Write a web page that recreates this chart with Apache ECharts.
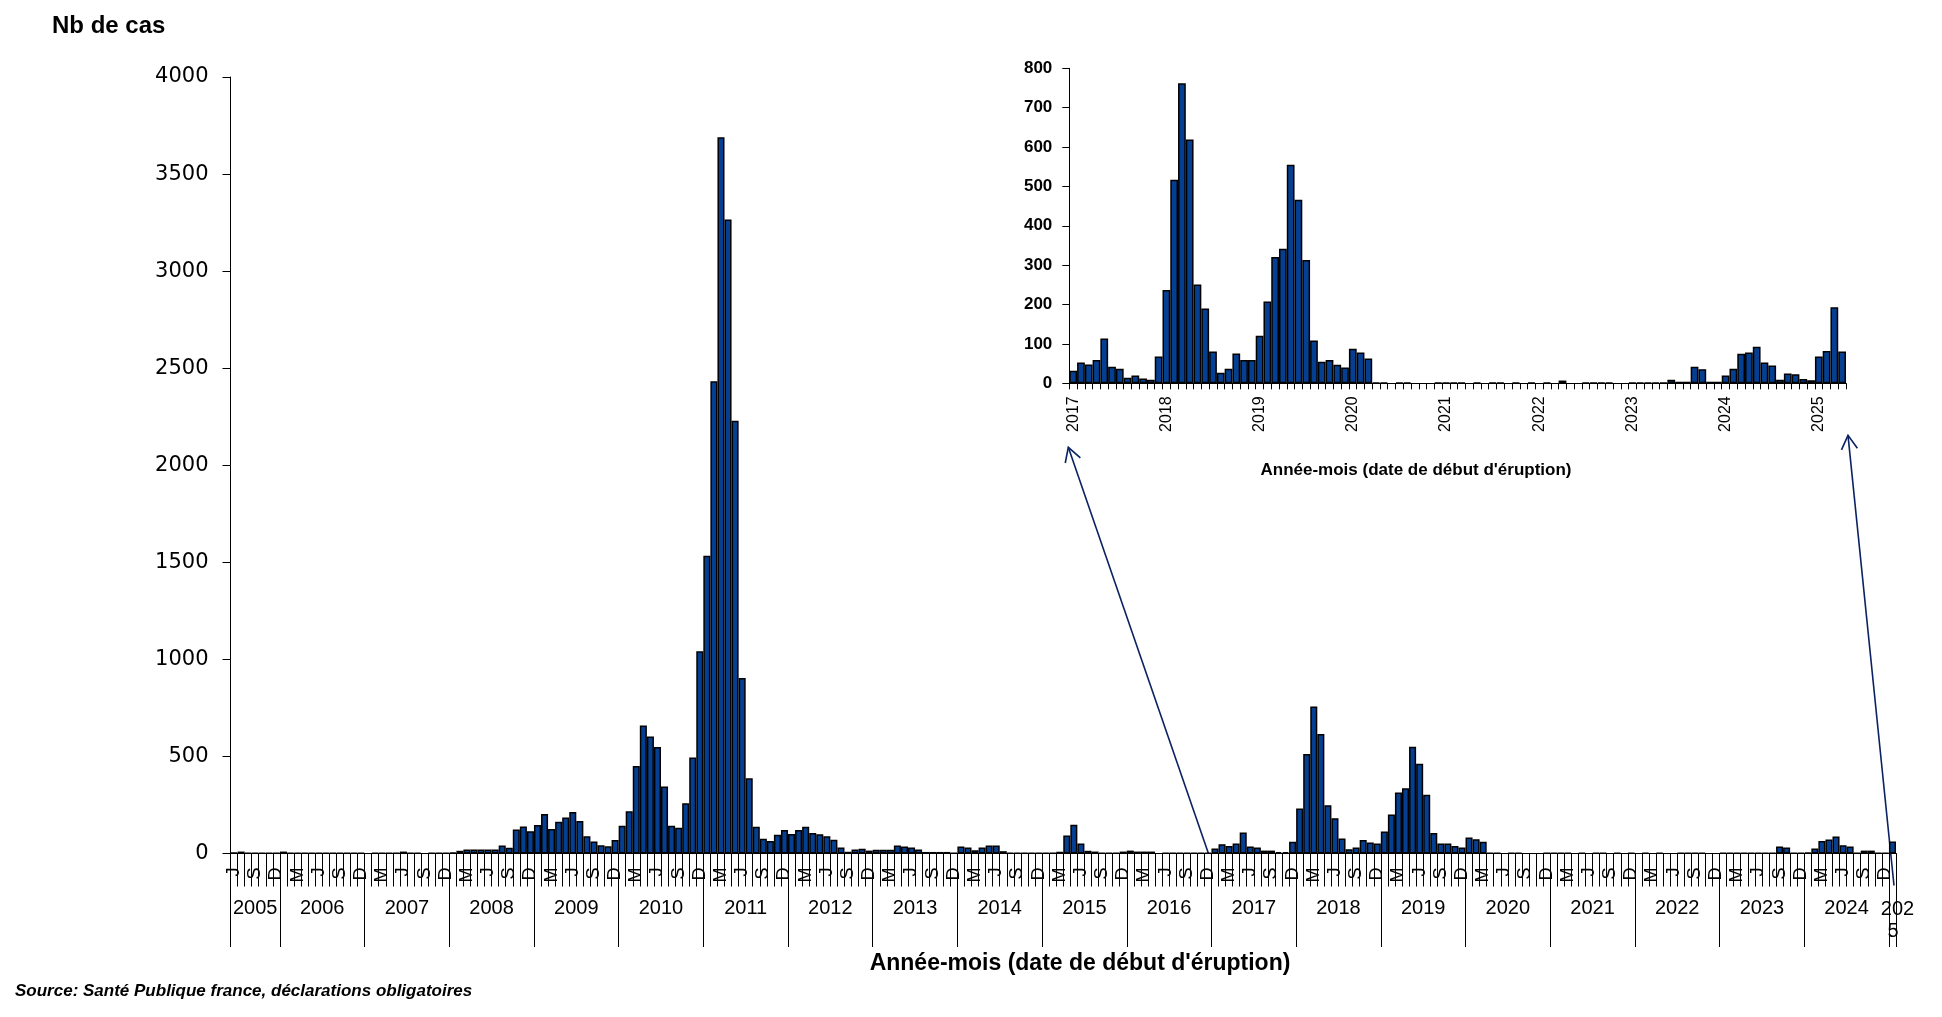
<!DOCTYPE html>
<html><head><meta charset="utf-8">
<script src="https://cdn.jsdelivr.net/npm/echarts@6/dist/echarts.min.js"></script>
<style>html,body{margin:0;padding:0;background:#fff}#c{width:1942px;height:1017px}</style>
</head><body><div id="c"></div>
<script>
// ---- Main chart: monthly cases, June 2005 -> January 2025 ----
const cases2005 = [5,10,3,3,3,3,3];            // Jun-Dec
const cases2006 = [10,3,3,3,3,3,3,3,3,3,3,3];
const cases2007 = [0,3,3,3,3,10,3,3,0,3,3,3];
const cases2008 = [4,14,20,20,20,20,20,41,29,123,139,115];
const cases2009 = [147,204,126,163,185,214,167,89,62,42,37,69];
const cases2010 = [143,217,451,660,603,549,345,143,133,259,495,1042];
const cases2011 = [1534,2433,3690,3266,2229,904,387,138,76,64,96,121];
const cases2012 = [101,121,138,106,99,89,71,31,9,21,24,15];
const cases2013 = [19,19,19,41,36,31,21,8,8,8,8,3];
const cases2014 = [36,31,17,31,41,41,12,3,3,3,3,3];
const cases2015 = [3,3,9,93,148,51,14,10,3,3,3,10];
const cases2016 = [15,10,10,10,0,3,3,3,3,3,3,3];
const cases2017 = [26,48,39,51,108,36,31,15,15,7,7,60];
const cases2018 = [232,512,757,615,249,182,77,22,31,69,57,51];
const cases2019 = [113,201,314,336,550,462,302,105,51,51,39,31];
const cases2020 = [82,74,60,3,3,0,3,3,0,0,0,3];
const cases2021 = [3,3,3,0,3,0,3,3,0,3,0,3];
const cases2022 = [0,3,0,3,0,0,3,3,3,3,0,0];
const cases2023 = [3,3,3,3,3,3,3,3,36,31,3,3];
const cases2024 = [5,26,65,72,87,43,36,3,15,15,3,3];
const cases2025 = [62];                          // Jan
const mainYears = [2005,2006,2007,2008,2009,2010,2011,2012,2013,2014,2015,2016,2017,2018,2019,2020,2021,2022,2023,2024,2025];
const mainByYear = [cases2005,cases2006,cases2007,cases2008,cases2009,cases2010,cases2011,cases2012,cases2013,cases2014,cases2015,cases2016,cases2017,cases2018,cases2019,cases2020,cases2021,cases2022,cases2023,cases2024,cases2025];
const mainFirstMonth = 6; // first year starts in June

// ---- Inset: January 2017 -> April 2025 ----
const inset2017 = [32,53,48,59,114,42,37,14,20,12,9,68];
const inset2018 = [237,517,762,619,251,190,81,27,37,76,59,59];
const inset2019 = [121,208,321,342,555,466,313,109,55,59,47,40];
const inset2020 = [88,78,63,2,2,0,2,2,0,0,0,2];
const inset2021 = [2,2,2,0,2,0,2,2,0,2,0,2];
const inset2022 = [0,2,0,7,0,0,2,2,2,2,0,0];
const inset2023 = [2,2,2,2,2,9,4,4,42,36,4,4];
const inset2024 = [20,37,75,78,93,53,45,9,25,23,11,8];
const inset2025 = [68,82,193,81];
const insetYears = [2017,2018,2019,2020,2021,2022,2023,2024,2025];
const insetByYear = [inset2017,inset2018,inset2019,inset2020,inset2021,inset2022,inset2023,inset2024,inset2025];

// tick labels
const monthLetters = ['J','F','M','A','M','J','J','A','S','O','N','D'];
const shownMonths = [3,6,9,12];
const mainYTicks = {min:0, max:4000, step:500};
const insetYTicks = {min:0, max:800, step:100};
const titles = {
  y: 'Nb de cas',
  x: "Année-mois (date de début d'éruption)",
  source: 'Source: Santé Publique france, déclarations obligatoires'
};

function pad(m){ return (m<10?'0':'')+m; }
const mainCats = [], mainVals = [];
mainYears.forEach((y, yi) => {
  const arr = mainByYear[yi];
  const start = yi === 0 ? mainFirstMonth : 1;
  arr.forEach((v, k) => { mainCats.push(y + '-' + pad(start + k)); mainVals.push(v === 0 ? null : v); });
});
const insetCats = [], insetVals = [];
insetYears.forEach((y, yi) => {
  insetByYear[yi].forEach((v, k) => { insetCats.push(y + '-' + pad(1 + k)); insetVals.push(v === 0 ? null : v); });
});
// where each year's label goes (category in the middle of its segment)
const yearLabelAt = {};
mainYears.forEach((y, yi) => {
  const n = mainByYear[yi].length;
  const start = yi === 0 ? mainFirstMonth : 1;
  if (n === 12) yearLabelAt[y + '-06'] = {text: String(y), shift: true};
  else yearLabelAt[y + '-' + pad(start + Math.floor((n - 1) / 2))] = {text: String(y), shift: n % 2 === 0, small: n < 3};
});

const BLUE = '#053f92';
const LF = 'Liberation Sans, Arial, sans-serif';
const chart = echarts.init(document.getElementById('c'), null, {renderer: 'canvas'});

const option = {
  animation: false,
  backgroundColor: '#fff',
  grid: [
    {left: 230.5, right: 46, top: 77, bottom: 163.5, containLabel: false},
    {left: 1069.3, width: 776.7, top: 68.3, height: 315, containLabel: false}
  ],
  xAxis: [
    { type: 'category', gridIndex: 0, position: 'bottom', data: mainCats, boundaryGap: true,
      axisLine: {show: true, lineStyle: {color: '#000', width: 1}},
      axisTick: {show: true, interval: 0, length: 33, lineStyle: {color: '#000', width: 1}},
      axisLabel: {interval: 0, rotate: 90, margin: 14, color: '#000', fontFamily: LF, fontSize: 18,
        formatter: v => { const m = +v.slice(5); return shownMonths.indexOf(m) >= 0 ? monthLetters[m - 1] : ''; }},
      splitLine: {show: false}
    },
    { type: 'category', gridIndex: 0, position: 'bottom', data: mainCats, boundaryGap: true,
      axisLine: {show: false},
      axisTick: {show: true, length: 93.5, lineStyle: {color: '#000', width: 1},
        interval: (i, v) => i === 0 || v.slice(5) === '01'},
      axisLabel: {interval: 0, margin: 45, color: '#000', fontFamily: LF, fontSize: 20,
        formatter: v => {
          const e = yearLabelAt[v]; if (!e) return '';
          if (e.small) return '{s|' + e.text.slice(0, 3) + '}\n{t|' + e.text.slice(3) + '}';
          return e.shift ? '{a|' + e.text + '}' : e.text;
        },
        rich: {a: {padding: [0, 0, 0, 7], fontSize: 20, fontFamily: LF, color: '#000'},
               s: {fontSize: 20, lineHeight: 22, fontFamily: LF, color: '#000', padding: [0, 0, 0, 10]},
               t: {fontSize: 20, lineHeight: 22, fontFamily: LF, color: '#000', padding: [0, 0, 0, 1]}}},
      splitLine: {show: false}
    },
    { type: 'category', gridIndex: 1, position: 'bottom', data: insetCats, boundaryGap: true,
      axisLine: {show: true, lineStyle: {color: '#000', width: 1}},
      axisTick: {show: true, interval: 0, length: 6, lineStyle: {color: '#000', width: 1}},
      axisLabel: {interval: 0, rotate: 90, margin: 13, color: '#000', fontFamily: LF, fontSize: 16,
        formatter: v => v.slice(5) === '01' ? v.slice(0, 4) : ''},
      splitLine: {show: false}
    }
  ],
  yAxis: [
    { type: 'value', gridIndex: 0, min: mainYTicks.min, max: mainYTicks.max, interval: mainYTicks.step,
      axisLine: {show: true, lineStyle: {color: '#000', width: 1}},
      axisTick: {show: true, length: 8, lineStyle: {color: '#000', width: 1}},
      axisLabel: {margin: 22, color: '#000', fontFamily: 'DejaVu Sans, sans-serif', fontSize: 21,
        formatter: v => String(v)},
      splitLine: {show: false}
    },
    { type: 'value', gridIndex: 1, min: insetYTicks.min, max: insetYTicks.max, interval: insetYTicks.step,
      axisLine: {show: true, lineStyle: {color: '#000', width: 1}},
      axisTick: {show: true, length: 7, lineStyle: {color: '#000', width: 1}},
      axisLabel: {margin: 17, color: '#000', fontFamily: LF, fontSize: 17, fontWeight: 'bold',
        formatter: v => String(v)},
      splitLine: {show: false}
    }
  ],
  series: [
    { type: 'bar', xAxisIndex: 0, yAxisIndex: 0, data: mainVals, barCategoryGap: '0%',
      itemStyle: {color: BLUE, borderColor: '#000', borderWidth: 1.5} },
    { type: 'bar', xAxisIndex: 2, yAxisIndex: 1, data: insetVals, barCategoryGap: '0%',
      itemStyle: {color: BLUE, borderColor: '#000', borderWidth: 1.5} }
  ]
};
chart.setOption(option);

// ---- annotations (texts + arrows), positioned from the chart's own scales ----
const xm = c => chart.convertToPixel({xAxisIndex: 0}, c);
const xi = c => chart.convertToPixel({xAxisIndex: 2}, c);
const bandM = xm(mainCats[1]) - xm(mainCats[0]);
const bandI = xi(insetCats[1]) - xi(insetCats[0]);
const mainBase = chart.convertToPixel({yAxisIndex: 0}, 0);
const insetBase = chart.convertToPixel({yAxisIndex: 1}, 0);
const mainJan17 = xm('2017-01') - bandM / 2;
const mainEnd = xm(mainCats[mainCats.length - 1]) + bandM / 2;
const insetStart = xi(insetCats[0]) - bandI / 2;
const insetEnd = xi(insetCats[insetCats.length - 1]) + bandI / 2;

const ARROW = '#0b2262';
function arrow(id, x1, y1, x2, y2) { // head at (x2,y2)
  const dx = x1 - x2, dy = y1 - y2, L = Math.hypot(dx, dy);
  const ux = dx / L, uy = dy / L, a = Math.PI / 6, h = 16;
  const w1 = [x2 + h * (ux * Math.cos(a) - uy * Math.sin(a)), y2 + h * (ux * Math.sin(a) + uy * Math.cos(a))];
  const w2 = [x2 + h * (ux * Math.cos(-a) - uy * Math.sin(-a)), y2 + h * (ux * Math.sin(-a) + uy * Math.cos(-a))];
  return [
    {type: 'line', id: id + 'l', shape: {x1, y1, x2, y2}, style: {stroke: ARROW, lineWidth: 1.6}, silent: true},
    {type: 'polyline', id: id + 'h', shape: {points: [w1, [x2, y2], w2]}, style: {stroke: ARROW, lineWidth: 1.6, fill: null}, silent: true}
  ];
}
function txt(id, x, y, text, font, align) {
  return {type: 'text', id, x, y, silent: true,
    style: {text, font, fill: '#000', align: align, verticalAlign: 'middle'}};
}
chart.setOption({
  graphic: [
    txt('ty', 52, 26, titles.y, 'bold 24px ' + LF, 'left'),
    txt('tx', 1080, 964, titles.x, 'bold 23px ' + LF, 'center'),
    txt('ts', 15, 991, titles.source, 'italic bold 17px ' + LF, 'left'),
    txt('ti', 1416, 470, titles.x, 'bold 17px ' + LF, 'center'),
    ...arrow('a1', mainJan17 - 3, mainBase, insetStart - 1, insetBase + 64),
    ...arrow('a2', mainEnd - 2, mainBase + 32, insetEnd + 2, insetBase + 52)
  ]
});
</script>
</body></html>
